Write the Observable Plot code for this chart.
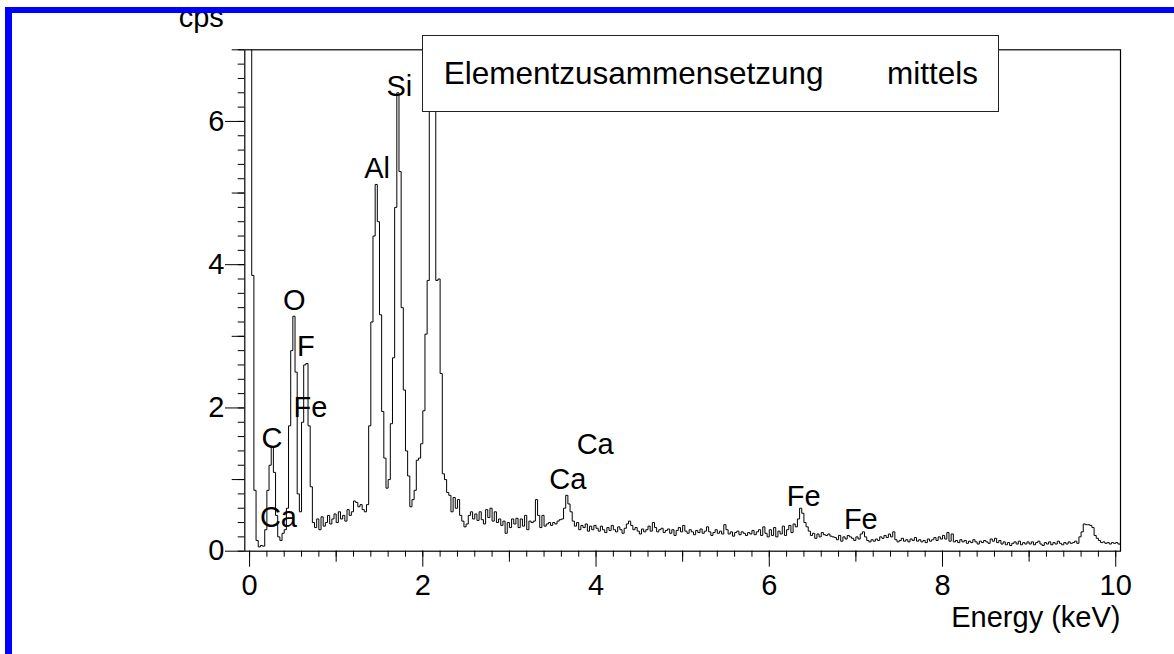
<!DOCTYPE html>
<html><head><meta charset="utf-8">
<script src="https://cdn.jsdelivr.net/npm/d3@7"></script>
<script src="https://cdn.jsdelivr.net/npm/@observablehq/plot@0.6"></script>
<style>
html,body{margin:0;padding:0;background:#fff;}
#wrap{position:relative;width:1174px;height:654px;overflow:hidden;font-family:"Liberation Sans",Arial,Helvetica,sans-serif;background:#fff;}
#chart{position:absolute;left:0;top:0;}
#chart svg{display:block;}
.blue{position:absolute;background:#0000ff;z-index:5;}
#title{position:absolute;left:421.7px;top:35px;width:577.3px;height:77px;box-sizing:border-box;border:1.6px solid #222;background:#fff;display:flex;align-items:center;justify-content:space-between;padding:0 20px 0 21px;font-size:31.5px;color:#000;z-index:3;white-space:nowrap;}
</style></head><body>
<div id="wrap">
  <div id="chart"></div>
  <div id="title"></div>
  <div class="blue" style="left:5px;top:6.7px;width:1169px;height:6px"></div>
  <div class="blue" style="left:5px;top:6.7px;width:6.7px;height:648px"></div>
</div>
<script>
// ---- data: EDX spectrum, counts per second, bins of 0.025 keV starting at -0.05 keV ----
const binStart = -0.05;
const binWidth = 0.025;
const cpsBelow0 = [9, 9];
const cps0to1 = [9, 3.85, 0.85, 0.15, 0.06, 0.08, 0.07, 0.3, 0.85, 1.2,
  1.45, 1.1, 0.5, 0.2, 0.15, 0.25, 0.3, 0.6, 1.75, 2.8,
  3.28, 2.5, 0.8, 0.55, 1.8, 2.6, 2.62, 1.75, 0.9, 0.4,
  0.33, 0.45, 0.3, 0.48, 0.35, 0.4, 0.5, 0.38, 0.45, 0.52];
const cps1to2 = [0.4, 0.55, 0.45, 0.5, 0.42, 0.58, 0.5, 0.55, 0.7, 0.68,
  0.62, 0.65, 0.58, 0.55, 0.65, 1.75, 3.2, 4.4, 5.12, 4.6,
  3.3, 1.95, 1.3, 0.88, 1.0, 1.78, 2.7, 4.8, 6.4, 5.3,
  3.4, 2.25, 1.4, 1.05, 0.62, 0.72, 0.85, 1.27, 1.3, 1.5];
const cps2to3 = [1.96, 3.03, 3.78, 7.2, 8, 7.5, 3.78, 3.8, 2.48, 1.08,
  1.0, 0.82, 0.78, 0.55, 0.75, 0.6, 0.72, 0.5, 0.42, 0.34,
  0.38, 0.5, 0.55, 0.45, 0.52, 0.43, 0.55, 0.44, 0.38, 0.58,
  0.47, 0.6, 0.42, 0.55, 0.4, 0.45, 0.36, 0.42, 0.25, 0.4];
const cps3to4 = [0.33, 0.45, 0.38, 0.46, 0.33, 0.45, 0.35, 0.5, 0.3, 0.42,
  0.4, 0.42, 0.72, 0.5, 0.33, 0.5, 0.35, 0.38, 0.4, 0.36,
  0.4, 0.38, 0.42, 0.44, 0.45, 0.6, 0.78, 0.66, 0.55, 0.42,
  0.35, 0.4, 0.3, 0.36, 0.33, 0.38, 0.28, 0.35, 0.3, 0.36];
const cps4to5 = [0.32, 0.28, 0.35, 0.3, 0.26, 0.33, 0.29, 0.36, 0.3, 0.27,
  0.34, 0.3, 0.25, 0.32, 0.38, 0.42, 0.36, 0.3, 0.33, 0.28,
  0.24, 0.31, 0.27, 0.3, 0.35, 0.28, 0.4, 0.33, 0.27, 0.3,
  0.32, 0.26, 0.29, 0.31, 0.25, 0.3, 0.22, 0.29, 0.33, 0.27];
const cps5to6 = [0.36, 0.28, 0.25, 0.3, 0.27, 0.23, 0.29, 0.26, 0.31, 0.25,
  0.28, 0.34, 0.27, 0.22, 0.26, 0.3, 0.25, 0.28, 0.24, 0.37,
  0.3, 0.24, 0.27, 0.21, 0.26, 0.28, 0.23, 0.27, 0.25, 0.22,
  0.26, 0.24, 0.29, 0.23, 0.27, 0.3, 0.22, 0.34, 0.25, 0.2];
const cps6to7 = [0.3, 0.22, 0.33, 0.2, 0.28, 0.24, 0.35, 0.22, 0.3, 0.36,
  0.26, 0.38, 0.34, 0.45, 0.6, 0.53, 0.4, 0.34, 0.28, 0.22,
  0.25, 0.18, 0.24, 0.2, 0.26, 0.23, 0.22, 0.24, 0.21, 0.2,
  0.19, 0.16, 0.22, 0.14, 0.2, 0.17, 0.22, 0.2, 0.18, 0.15];
const cps7to8 = [0.2, 0.17, 0.24, 0.27, 0.2, 0.15, 0.13, 0.16, 0.14, 0.17,
  0.15, 0.2, 0.18, 0.22, 0.19, 0.24, 0.2, 0.27, 0.16, 0.13,
  0.15, 0.18, 0.14, 0.16, 0.13, 0.17, 0.15, 0.19, 0.14, 0.16,
  0.13, 0.15, 0.12, 0.17, 0.14, 0.16, 0.19, 0.15, 0.2, 0.17];
const cps8to9 = [0.22, 0.17, 0.26, 0.14, 0.24, 0.13, 0.15, 0.12, 0.16, 0.13,
  0.15, 0.11, 0.14, 0.12, 0.16, 0.13, 0.1, 0.14, 0.12, 0.15,
  0.13, 0.11, 0.17, 0.14, 0.18, 0.12, 0.15, 0.1, 0.13, 0.09,
  0.12, 0.08, 0.11, 0.13, 0.1, 0.14, 0.09, 0.12, 0.1, 0.13];
const cps9to10 = [0.1, 0.13, 0.09, 0.12, 0.14, 0.1, 0.08, 0.12, 0.1, 0.13,
  0.09, 0.12, 0.1, 0.14, 0.11, 0.09, 0.12, 0.1, 0.13, 0.11,
  0.12, 0.14, 0.11, 0.2, 0.27, 0.38, 0.37, 0.37, 0.36, 0.33,
  0.22, 0.18, 0.15, 0.12, 0.13, 0.11, 0.12, 0.1, 0.12, 0.11];
const cpsAbove10 = [0.12, 0.1];

// element annotations (energy in keV, cps position of the label)
const labelNames  = ["C", "Ca", "O", "F", "Fe", "Al", "Si", "Ca", "Ca", "Fe", "Fe"];
const labelEnergy = [0.26, 0.333, 0.516, 0.651, 0.703, 1.472, 1.73, 3.99, 3.674, 6.397, 7.057];
const labelCps    = [1.57, 0.47, 3.5, 2.85, 2.01, 5.34, 6.49, 1.49, 1.0, 0.754, 0.443];

// axes
const xMajorTicks = [0, 2, 4, 6, 8, 10];
const xMediumTicks = [1, 3, 5, 7, 9];
const yMajorTicks = [0, 2, 4, 6];
const yMediumTicks = [1, 3, 5, 7];
const xTitle = "Energy (keV)";
const yTitle = "cps";
const titleParts = ["Elementzusammensetzung", "mittels"];

// ---- build ----
const cps = [].concat(cpsBelow0, cps0to1, cps1to2, cps2to3, cps3to4, cps4to5,
  cps5to6, cps6to7, cps7to8, cps8to9, cps9to10, cpsAbove10);
const steps = cps.map((v, i) => ({e: binStart + i * binWidth, v}));
steps.push({e: binStart + cps.length * binWidth, v: cps[cps.length - 1]});

const xMinorTicks = d3.range(0, 51).map(i => +(i * 0.2).toFixed(2));
const yMinorTicks = d3.range(0, 36).map(i => +(i * 0.2).toFixed(2));
const blank = () => "";
const fontFamily = '"Liberation Sans", Arial, Helvetica, sans-serif';

const chart = Plot.plot({
  width: 1174, height: 654,
  marginLeft: 244.3, marginRight: 54, marginTop: 49.3, marginBottom: 103.3,
  style: {fontFamily, fontSize: "29px", color: "#000", background: "transparent", overflow: "visible"},
  x: {domain: [-0.055, 10.055], label: null},
  y: {domain: [0, 7], label: null},
  marks: [
    Plot.line(steps, {x: "e", y: "v", curve: "step-after", stroke: "#000", strokeWidth: 1, clip: true}),
    Plot.frame({stroke: "#000", strokeWidth: 1.2}),
    Plot.axisX({ticks: xMinorTicks, tickSize: 6, tickFormat: blank, label: null}),
    Plot.axisX({ticks: xMediumTicks, tickSize: 11, tickFormat: blank, label: null}),
    Plot.axisX({ticks: xMajorTicks, tickSize: 16, tickPadding: 7, tickFormat: d => String(d), label: null}),
    Plot.axisY({ticks: yMinorTicks, tickSize: 6.6, tickFormat: blank, label: null}),
    Plot.axisY({ticks: yMediumTicks, tickSize: 12.6, tickFormat: blank, label: null}),
    Plot.axisY({ticks: yMajorTicks, tickSize: 19.3, tickPadding: 1, tickFormat: d => String(d), label: null}),
    Plot.text(labelNames, {x: (d, i) => labelEnergy[i], y: (d, i) => labelCps[i], fontSize: 29, fill: "#000"}),
    Plot.text([yTitle], {frameAnchor: "top-left", dx: -21, dy: -23.3, textAnchor: "end", lineAnchor: "bottom", fontSize: 29}),
    Plot.text([xTitle], {frameAnchor: "bottom-right", dx: 0, dy: 76, textAnchor: "end", lineAnchor: "bottom", fontSize: 29})
  ]
});
document.getElementById("chart").appendChild(chart);
const t = document.getElementById("title");
titleParts.forEach(s => { const sp = document.createElement("span"); sp.textContent = s; t.appendChild(sp); });
</script>
</body></html>
